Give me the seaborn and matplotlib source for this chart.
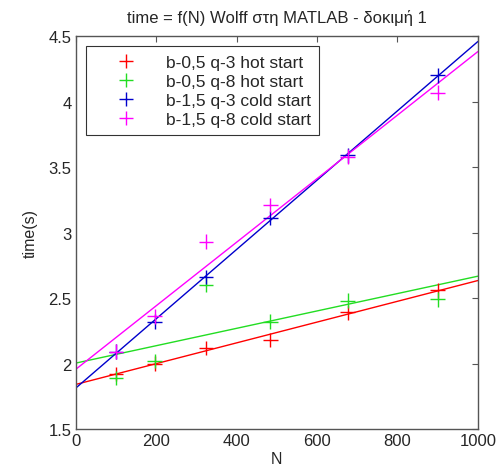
import matplotlib
matplotlib.use("Agg")
import matplotlib.pyplot as plt
import numpy as np
import pandas as pd
import seaborn as sns

N = [100, 196, 324, 484, 676, 900]
labels = ["b-0,5 q-3 hot start", "b-0,5 q-8 hot start",
          "b-1,5 q-3 cold start", "b-1,5 q-8 cold start"]
t_red = [1.92, 2.00, 2.12, 2.18, 2.39, 2.56]
t_green = [1.89, 2.02, 2.60, 2.32, 2.48, 2.49]
t_blue = [2.09, 2.32, 2.66, 3.11, 3.59, 4.20]
t_magenta = [2.09, 2.36, 2.93, 3.21, 3.58, 4.07]
colors = ["#ff0000", "#22dd22", "#0000cc", "#ff00ff"]

series = [t_red, t_green, t_blue, t_magenta]
df = pd.concat([pd.DataFrame({"N": N, "time": s, "run": lab})
                for s, lab in zip(series, labels)], ignore_index=True)

sns.set_style("white")
plt.rcParams['font.family'] = ['Liberation Sans', 'DejaVu Sans']

fig = plt.figure(figsize=(5.02, 4.77), dpi=100)
ax = fig.add_axes([0.151, 0.0985, 0.801, 0.8235])
ax.set_xlim(0, 1000)
ax.set_ylim(1.5, 4.5)

# linear fits across the whole axis
for lab, c in zip(labels, colors):
    sub = df[df["run"] == lab]
    sns.regplot(data=sub, x="N", y="time", ax=ax, scatter=False, ci=None,
                truncate=False, color=c, line_kws={"linewidth": 1.0})

sns.scatterplot(data=df, x="N", y="time", hue="run", palette=colors,
                marker="+", s=110, linewidth=1.0, ax=ax, legend=True, zorder=5)

ax.set_xlim(0, 1000)
ax.set_ylim(1.5, 4.5)
ax.set_xticks([0, 200, 400, 600, 800, 1000])
ax.set_yticks([1.5, 2, 2.5, 3, 3.5, 4, 4.5])
ax.set_yticklabels(["1.5", "2", "2.5", "3", "3.5", "4", "4.5"])
ax.tick_params(direction="in", length=4, top=True, right=True, labelsize=12,
               color="#555555", pad=3)
for sp in ax.spines.values():
    sp.set_color("#555555")
    sp.set_linewidth(1.0)

ax.set_xlabel("N", fontsize=11.5, labelpad=2)
ax.set_ylabel("time(s)", fontsize=11.5, labelpad=8)
ax.set_title("time = f(N) Wolff στη MATLAB - δοκιμή 1", fontsize=12, pad=10)

handles, _ = ax.get_legend_handles_labels()
leg = ax.legend(handles, labels, loc="upper left", fontsize=12.5,
                frameon=True, fancybox=False, edgecolor="black",
                borderpad=0.5, handletextpad=0.5, handlelength=3.6,
                labelspacing=0.22, bbox_to_anchor=(0.025, 0.975),
                borderaxespad=0.0)
leg.get_frame().set_linewidth(0.8)

plt.savefig("out.png", dpi=100)
